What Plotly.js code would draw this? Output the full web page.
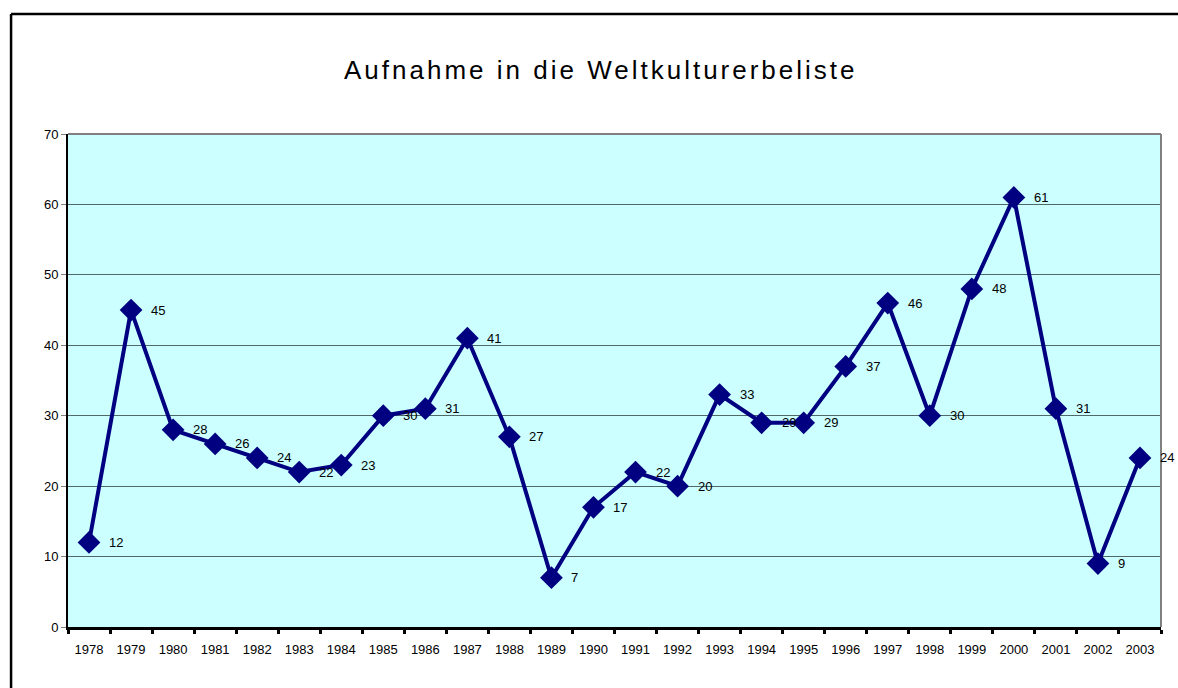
<!DOCTYPE html>
<html>
<head>
<meta charset="utf-8">
<script src="https://cdn.plot.ly/plotly-3.0.1.min.js"></script>
<style>
html,body{margin:0;padding:0;background:#fff;}
#chart{width:1178px;height:688px;}
.gtitle{letter-spacing:3px;}
</style>
</head>
<body>
<div id="chart"></div>
<script>
const years = ["1978","1979","1980","1981","1982","1983","1984","1985","1986","1987","1988","1989","1990","1991","1992","1993","1994","1995","1996","1997","1998","1999","2000","2001","2002","2003"];
const counts = [12,45,28,26,24,22,23,30,31,41,27,7,17,22,20,33,29,29,37,46,30,48,61,31,9,24];
const titleText = "Aufnahme in die Weltkulturerbeliste";

const fontFam = "Liberation Sans, Arial, sans-serif";

const trace = {
  x: years,
  y: counts,
  type: "scatter",
  mode: "lines+markers",
  line: {color: "#000080", width: 4},
  marker: {symbol: "diamond", size: 17.5, color: "#000080"},
  cliponaxis: false,
  hoverinfo: "x+y"
};

const labels = years.map((yr, i) => ({
  x: i, y: counts[i], xref: "x", yref: "y",
  text: String(counts[i]), showarrow: false,
  xanchor: "left", yanchor: "middle", xshift: 18,
  font: {family: fontFam, size: 13, color: "#000"}
}));

const layout = {
  width: 1178,
  height: 688,
  margin: {l: 68, r: 17, t: 134, b: 61},
  paper_bgcolor: "#ffffff",
  plot_bgcolor: "#ccffff",
  showlegend: false,
  font: {family: fontFam, color: "#000"},
  title: {
    text: titleText,
    font: {family: fontFam, size: 26, color: "#000"},
    xref: "container", x: 0.51, xanchor: "center",
    yref: "container", y: 0.898, yanchor: "middle"
  },
  xaxis: {
    type: "category",
    range: [-0.5, years.length - 0.5],
    autorange: false,
    showgrid: false,
    zeroline: false,
    showline: true,
    linecolor: "#000",
    linewidth: 3,
    ticks: "outside",
    tickson: "boundaries",
    ticklen: 4,
    tickwidth: 3,
    tickcolor: "#000",
    ticklabelstandoff: 8,
    tickfont: {size: 13, color: "#000"},
    fixedrange: true
  },
  yaxis: {
    range: [0, 70],
    autorange: false,
    dtick: 10,
    showgrid: true,
    gridcolor: "#4f6868",
    gridwidth: 1,
    zeroline: false,
    showline: true,
    linecolor: "#000",
    linewidth: 2,
    ticks: "outside",
    ticklen: 5,
    tickwidth: 1,
    tickcolor: "#808080",
    tickfont: {size: 13, color: "#000"},
    fixedrange: true
  },
  annotations: labels,
  shapes: [
    {type: "line", xref: "paper", yref: "paper", x0: 0, x1: 1, y0: 1, y1: 1, line: {color: "#808080", width: 2}, layer: "above"},
    {type: "line", xref: "paper", yref: "paper", x0: 1, x1: 1, y0: 0, y1: 1, line: {color: "#808080", width: 2}, layer: "above"},
    {type: "line", xref: "paper", yref: "paper", x0: -0.0521, x1: 1.1, y0: 1.2436, y1: 1.2436, line: {color: "#000", width: 2.5}, layer: "above"},
    {type: "line", xref: "paper", yref: "paper", x0: -0.0521, x1: -0.0521, y0: -0.2, y1: 1.2436, line: {color: "#000", width: 2.5}, layer: "above"}
  ]
};

Plotly.newPlot("chart", [trace], layout, {displayModeBar: false, staticPlot: true});
</script>
</body>
</html>
